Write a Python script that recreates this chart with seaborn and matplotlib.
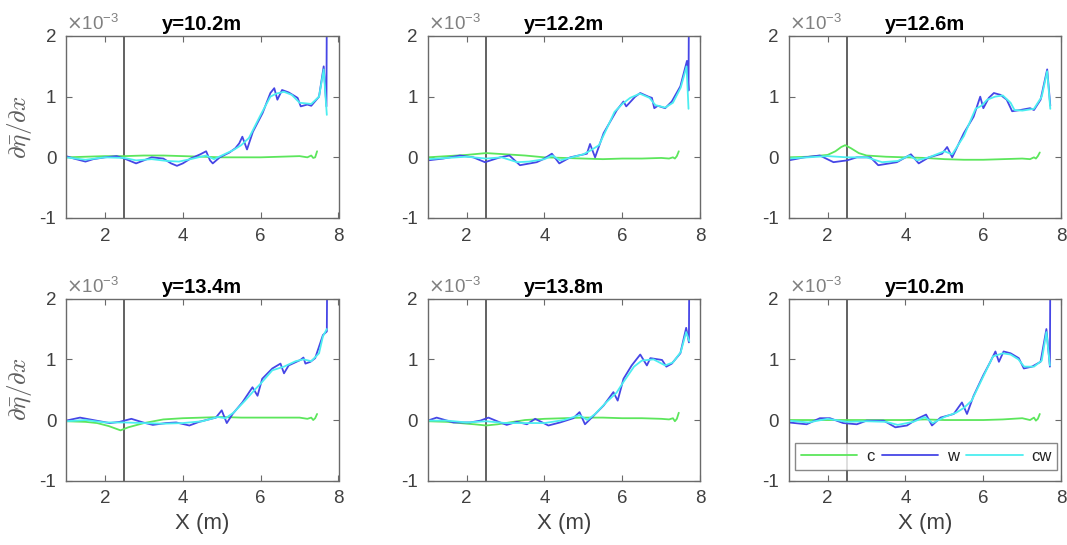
import numpy as np
import matplotlib
matplotlib.use("Agg")
import matplotlib.pyplot as plt
from matplotlib.ticker import FuncFormatter
import seaborn as sns

# ---------------- data (values in units of 1e-3) ----------------
titles = ["y=10.2m", "y=12.2m", "y=12.6m", "y=13.4m", "y=13.8m", "y=10.2m"]
series_labels = ["c", "w", "cw"]

# panel 1
x_w1 = [1.0,1.2,1.5,1.7,2.0,2.3,2.5,2.8,3.0,3.2,3.5,3.7,3.85,4.0,4.2,4.45,4.6,4.7,4.77,4.95,5.2,5.35,5.45,5.53,5.65,5.8,6.05,6.25,6.35,6.43,6.55,6.72,6.95,7.03,7.2,7.3,7.5,7.62,7.69,7.7]
w1 = [0.02,-0.02,-0.07,-0.03,0.0,0.02,-0.02,-0.1,-0.05,0.0,-0.02,-0.1,-0.14,-0.1,-0.02,0.05,0.1,-0.05,-0.1,0.0,0.08,0.15,0.23,0.34,0.13,0.42,0.73,1.06,1.14,0.95,1.11,1.07,0.98,0.84,0.87,0.85,1.0,1.5,0.84,2.5]
x_cw1 = [1.0,1.5,2.0,2.5,2.8,3.2,3.6,3.9,4.2,4.6,4.8,5.0,5.3,5.5,5.7,6.0,6.25,6.4,6.6,6.8,7.0,7.3,7.5,7.62,7.7]
cw1 = [0.0,-0.04,0.0,-0.01,-0.05,-0.03,-0.06,-0.07,-0.03,0.03,-0.03,0.03,0.12,0.2,0.32,0.7,1.0,1.05,1.08,1.03,0.9,0.88,1.0,1.45,0.7]
x_c1 = [1.0,1.5,2.0,2.5,3.0,3.5,4.0,4.5,5.0,5.5,6.0,6.5,7.0,7.2,7.3,7.35,7.4,7.45]
c1 = [0.0,0.01,0.02,0.02,0.03,0.03,0.02,0.01,0.0,0.0,0.0,0.01,0.02,0.0,0.03,-0.01,0.0,0.1]

# panel 2
x_w2 = [1.0,1.4,1.83,2.17,2.47,2.86,3.1,3.37,3.8,3.97,4.19,4.38,4.66,5.09,5.17,5.3,5.52,5.86,6.03,6.1,6.33,6.46,6.67,6.76,6.82,6.91,7.1,7.27,7.49,7.66,7.7,7.71]
w2 = [-0.05,-0.02,0.03,0.0,-0.08,0.0,0.03,-0.13,-0.08,-0.03,0.06,-0.1,0.0,0.06,0.22,0.0,0.4,0.78,0.92,0.84,1.0,1.06,1.0,0.98,0.81,0.85,0.81,0.92,1.17,1.59,1.1,2.5]
x_cw2 = [1.0,1.5,2.0,2.5,2.9,3.3,3.6,4.0,4.2,4.4,4.7,5.0,5.2,5.4,5.8,6.0,6.2,6.45,6.7,6.85,7.1,7.3,7.5,7.65,7.7]
cw2 = [-0.03,-0.01,0.01,-0.02,0.0,-0.08,-0.07,-0.03,0.03,-0.05,0.0,0.05,0.12,0.2,0.75,0.88,0.98,1.05,0.98,0.86,0.82,0.9,1.15,1.5,0.8]
x_c2 = [1.0,1.5,2.0,2.5,3.0,3.5,4.0,4.5,5.0,5.5,6.0,6.5,7.0,7.2,7.3,7.35,7.4,7.45]
c2 = [0.0,0.02,0.04,0.07,0.05,0.03,0.0,-0.01,-0.02,-0.03,-0.02,-0.02,-0.01,-0.02,0.0,-0.02,0.02,0.1]

# panel 3
x_w3 = [1.0,1.4,1.8,2.15,2.5,2.75,3.1,3.3,3.78,4.14,4.34,4.6,4.94,5.07,5.2,5.5,5.75,5.92,6.0,6.14,6.27,6.44,6.6,6.74,6.95,7.2,7.3,7.47,7.64,7.72]
w3 = [-0.05,0.0,0.03,-0.08,-0.05,0.0,0.0,-0.13,-0.08,0.05,-0.1,0.0,0.06,0.17,0.0,0.4,0.67,1.0,0.81,0.98,1.06,1.03,0.95,0.76,0.78,0.81,0.78,0.95,1.45,0.85]
x_cw3 = [1.0,1.5,2.0,2.5,3.0,3.4,3.8,4.1,4.3,4.6,5.0,5.2,5.5,5.8,5.95,6.1,6.3,6.5,6.7,6.8,7.0,7.3,7.5,7.64,7.72]
cw3 = [-0.02,0.0,0.02,0.0,0.0,-0.08,-0.06,0.03,-0.05,0.0,0.1,0.05,0.35,0.8,0.85,0.95,1.0,1.02,0.9,0.78,0.77,0.8,1.0,1.42,0.8]
x_c3 = [1.0,1.5,2.0,2.2,2.35,2.45,2.6,2.8,3.0,3.5,4.0,4.5,5.0,5.5,6.0,6.5,7.0,7.2,7.3,7.35,7.4,7.45]
c3 = [0.0,0.01,0.04,0.1,0.17,0.2,0.15,0.07,0.03,0.01,0.0,-0.01,-0.03,-0.04,-0.04,-0.03,-0.02,-0.03,0.0,-0.02,0.02,0.08]

# panel 4
x_w4 = [1.0,1.36,1.78,2.12,2.38,2.68,2.98,3.23,3.57,3.83,4.17,4.42,4.85,5.0,5.13,5.28,5.53,5.79,5.92,6.04,6.3,6.51,6.6,6.72,7.02,7.1,7.15,7.28,7.4,7.6,7.7,7.71]
w4 = [-0.01,0.04,-0.01,-0.05,-0.03,0.02,-0.04,-0.08,-0.05,-0.04,-0.09,-0.03,0.04,0.16,-0.05,0.1,0.29,0.54,0.4,0.68,0.85,0.93,0.77,0.9,0.99,1.03,0.93,0.96,1.02,1.4,1.46,2.5]
x_cw4 = [1.0,1.5,2.0,2.5,3.0,3.5,4.0,4.5,4.9,5.1,5.3,5.6,5.85,6.0,6.3,6.6,6.9,7.1,7.3,7.5,7.6,7.7]
cw4 = [-0.02,0.0,-0.04,-0.04,-0.05,-0.06,-0.05,-0.02,0.05,0.03,0.12,0.32,0.5,0.6,0.82,0.88,0.97,1.0,0.97,1.1,1.38,1.5]
x_c4 = [1.0,1.5,1.8,2.1,2.4,2.6,3.0,3.5,4.0,4.5,5.0,5.5,6.0,6.5,7.0,7.2,7.3,7.35,7.4,7.45]
c4 = [-0.02,-0.03,-0.05,-0.1,-0.17,-0.12,-0.05,0.01,0.03,0.04,0.05,0.04,0.04,0.04,0.04,0.02,0.04,0.0,0.03,0.1]

# panel 5
x_w5 = [1.0,1.23,1.66,2.09,2.35,2.56,2.86,3.03,3.29,3.55,3.76,4.1,4.4,4.74,4.9,5.04,5.26,5.52,5.77,5.88,6.03,6.24,6.46,6.63,6.72,7.02,7.13,7.27,7.49,7.64,7.71,7.72]
w5 = [-0.01,0.04,-0.04,-0.04,-0.01,0.04,-0.04,-0.08,-0.03,-0.07,0.02,-0.09,-0.04,0.03,0.13,-0.07,0.07,0.24,0.46,0.32,0.68,0.9,1.08,0.9,1.02,0.99,0.88,0.93,1.1,1.52,1.28,2.5]
x_cw5 = [1.0,1.5,2.0,2.5,3.0,3.5,4.0,4.5,4.9,5.1,5.3,5.6,5.85,6.0,6.3,6.5,6.8,7.1,7.3,7.5,7.64,7.72]
cw5 = [-0.01,-0.01,-0.04,-0.02,-0.05,-0.05,-0.05,0.0,0.08,0.0,0.1,0.3,0.45,0.6,0.88,0.98,1.0,0.9,0.95,1.12,1.45,1.3]
x_c5 = [1.0,1.5,2.0,2.2,2.5,2.8,3.0,3.5,4.0,4.5,5.0,5.5,6.0,6.5,7.0,7.2,7.3,7.35,7.4,7.45]
c5 = [-0.02,-0.03,-0.06,-0.07,-0.09,-0.07,-0.05,0.0,0.02,0.03,0.04,0.04,0.03,0.03,0.02,0.01,0.03,-0.02,0.02,0.12]

# panel 6
x_w6 = [1.0,1.46,1.8,2.06,2.4,2.75,3.0,3.44,3.74,4.04,4.3,4.53,4.68,4.9,5.24,5.45,5.58,5.75,6.0,6.18,6.31,6.4,6.52,6.7,6.91,7.04,7.25,7.47,7.62,7.71,7.72]
w6 = [-0.04,-0.07,0.03,0.03,-0.05,-0.07,-0.01,-0.01,-0.12,-0.09,0.02,0.09,-0.09,0.04,0.1,0.29,0.1,0.4,0.74,0.96,1.13,0.96,1.13,1.1,1.02,0.85,0.88,0.96,1.5,0.88,2.5]
x_cw6 = [1.0,1.5,2.0,2.5,3.0,3.5,3.8,4.2,4.5,4.7,5.0,5.3,5.5,5.7,6.0,6.25,6.5,6.7,6.9,7.05,7.3,7.5,7.62,7.71]
cw6 = [-0.01,-0.04,0.02,-0.03,-0.02,-0.03,-0.08,-0.03,0.05,-0.05,0.05,0.12,0.2,0.32,0.72,1.05,1.1,1.08,1.0,0.88,0.88,0.98,1.45,0.9]
x_c6 = [1.0,1.5,2.0,2.5,3.0,3.5,4.0,4.5,5.0,5.5,6.0,6.5,7.0,7.2,7.3,7.35,7.4,7.45]
c6 = [0.0,0.0,0.0,0.0,0.0,0.0,0.0,0.01,0.0,0.0,0.0,0.01,0.03,0.0,0.04,-0.01,0.02,0.1]

x_marker = 2.5           # vertical reference line
x_ticks = [2, 4, 6, 8]
y_ticks = [-1, 0, 1, 2]  # x 1e-3

panels = [
    (x_c1, c1, x_w1, w1, x_cw1, cw1),
    (x_c2, c2, x_w2, w2, x_cw2, cw2),
    (x_c3, c3, x_w3, w3, x_cw3, cw3),
    (x_c4, c4, x_w4, w4, x_cw4, cw4),
    (x_c5, c5, x_w5, w5, x_cw5, cw5),
    (x_c6, c6, x_w6, w6, x_cw6, cw6),
]

# ---------------- style ----------------
sns.set_style("white")
plt.rcParams['font.family'] = ['Liberation Sans', 'DejaVu Sans']
plt.rcParams['axes.unicode_minus'] = False

col_c = "#5ce65c"
col_w = "#4646e6"
col_cw = "#4ceef0"
txt_col = "#404040"
edge_col = "#6a6a6a"
SCALE = 1e-3

fig = plt.figure(figsize=(10.67, 5.45), dpi=100)
lefts = [66/1067, 427.7/1067, 788.7/1067]
width = 272.5/1067
bottoms = [1-218/545, 1-480.7/545]
height = 182/545

yfmt = FuncFormatter(lambda v, p: f"{v/SCALE:.0f}")

for i, (xc, c, xw, w, xcw, cw) in enumerate(panels):
    r, col = divmod(i, 3)
    ax = fig.add_axes([lefts[col], bottoms[r], width, height])
    ax.axvline(x_marker, color="#555555", lw=1.3, zorder=1)
    sns.lineplot(x=xc, y=np.array(c)*SCALE, ax=ax, color=col_c, lw=1.3,
                 estimator=None, sort=False, label=series_labels[0], legend=False)
    sns.lineplot(x=xw, y=np.array(w)*SCALE, ax=ax, color=col_w, lw=1.3,
                 estimator=None, sort=False, label=series_labels[1], legend=False)
    sns.lineplot(x=xcw, y=np.array(cw)*SCALE, ax=ax, color=col_cw, lw=1.3,
                 estimator=None, sort=False, label=series_labels[2], legend=False)
    ax.set_xlim(1, 8)
    ax.set_ylim(-1*SCALE, 2*SCALE)
    ax.set_xticks(x_ticks)
    ax.set_yticks(np.array(y_ticks)*SCALE)
    ax.yaxis.set_major_formatter(yfmt)
    ax.text(0.0, 1.012, r"$\times$10$^{\mathregular{-3}}$", transform=ax.transAxes,
            ha='left', va='bottom', fontsize=13.5, color="#808080")
    ax.tick_params(direction='in', length=4, width=0.8, colors=edge_col,
                   labelcolor=txt_col, labelsize=13.5, top=True, right=True,
                   left=True, bottom=True, pad=7)
    for s in ax.spines.values():
        s.set_color(edge_col)
        s.set_linewidth(1.0)
    ax.set_title(titles[i], fontsize=14.5, fontweight='bold', color='black', pad=4)
    ax.set_xlabel("")
    ax.set_ylabel("")
    if col == 0:
        yl = ax.set_ylabel(r"$\partial\bar{\eta}/\partial x$", fontsize=18,
                           color="#606060", labelpad=4)
        yl.set_math_fontfamily('cm')
    if r == 1:
        ax.set_xlabel("X (m)", fontsize=16, color=txt_col, labelpad=4)
    if i == 5:
        leg = ax.legend(loc='lower left', bbox_to_anchor=(0.023, 0.059, 0.963, 0.154),
                        mode='expand', ncol=3, fontsize=12, handlelength=3.4,
                        handletextpad=0.5, columnspacing=0.6, borderaxespad=0,
                        fancybox=False, frameon=True, borderpad=0.35)
        leg.get_frame().set_edgecolor(edge_col)
        leg.get_frame().set_linewidth(1.0)
        for t in leg.get_texts():
            t.set_color("#222222")

fig.savefig("out.png", dpi=100)
